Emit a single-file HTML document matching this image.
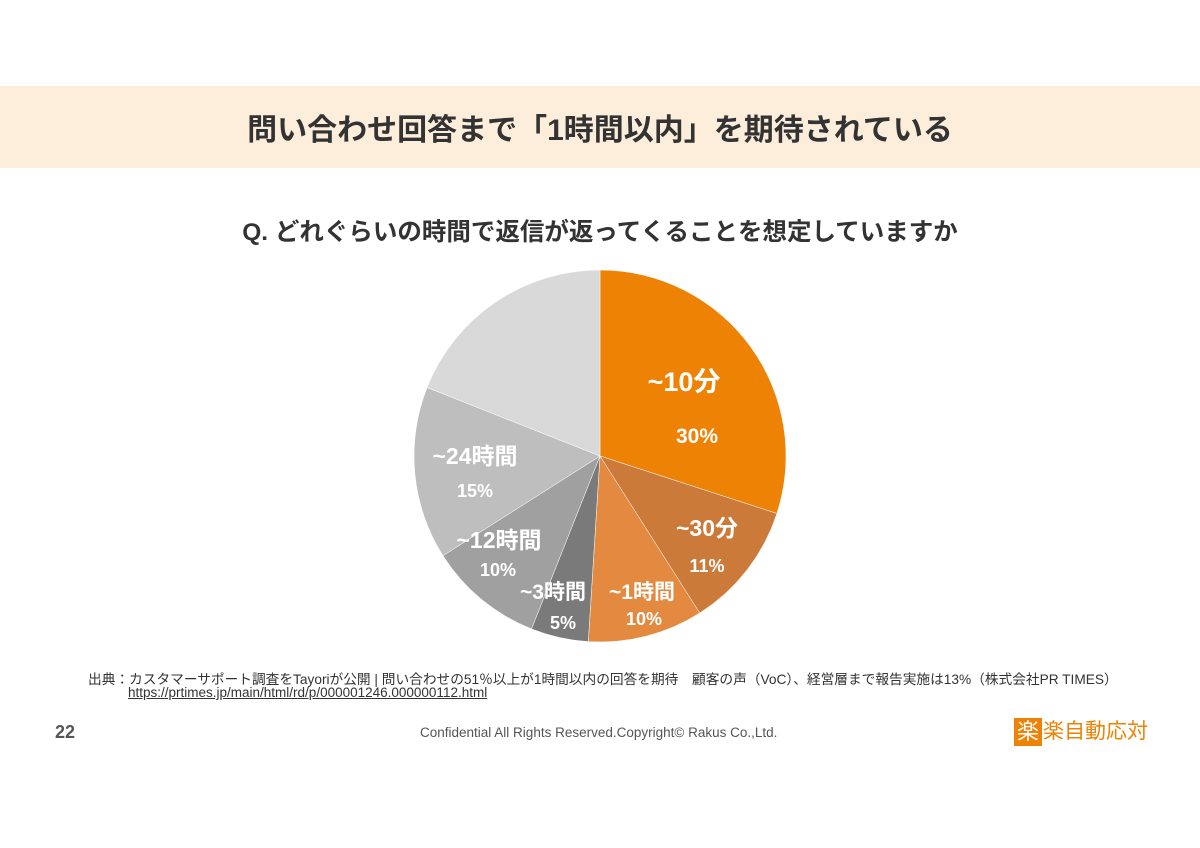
<!DOCTYPE html><html><head><meta charset="utf-8"><style>
body{margin:0;width:1200px;height:848px;background:#fff;position:relative;overflow:hidden;font-family:"Liberation Sans","Noto Sans CJK JP",sans-serif}
.a{position:absolute;white-space:nowrap}
</style></head><body>
<div class="a" style="left:0;top:86px;width:1200px;height:82px;background:#FDEEDC"></div>
<div class="a" style="left:0;top:105px;width:1200px;text-align:center;font-size:30px;font-weight:bold;color:#333">問い合わせ回答まで「1時間以内」を期待されている</div>
<div class="a" style="left:0;top:213px;width:1200px;text-align:center;font-size:24.5px;font-weight:bold;color:#333">Q. どれぐらいの時間で返信が返ってくることを想定していますか</div>
<svg class="a" style="left:0;top:0" width="1200" height="848">
<g stroke="#fff" stroke-width="0.5">
<path d="M600 456L600 270A186 186 0 0 1 776.9 513.5Z" fill="#EE8205"/>
<path d="M600 456L776.9 513.5A186 186 0 0 1 699.7 613Z" fill="#CB7A3A"/>
<path d="M600 456L699.7 613A186 186 0 0 1 588.3 641.6Z" fill="#E38A40"/>
<path d="M600 456L588.3 641.6A186 186 0 0 1 531.5 628.9Z" fill="#7A7A7A"/>
<path d="M600 456L531.5 628.9A186 186 0 0 1 443 555.7Z" fill="#A0A0A0"/>
<path d="M600 456L443 555.7A186 186 0 0 1 427.1 387.5Z" fill="#BEBEBE"/>
<path d="M600 456L427.1 387.5A186 186 0 0 1 600 270Z" fill="#D9D9D9"/>
</g>
<g fill="#fff" font-weight="bold" text-anchor="middle" font-family="Liberation Sans,Noto Sans CJK JP,sans-serif">
<text x="684" y="391" font-size="27">~10分</text><text x="697" y="443" font-size="21">30%</text>
<text x="707" y="536" font-size="23">~30分</text><text x="707" y="572" font-size="18">11%</text>
<text x="642" y="599" font-size="21">~1時間</text><text x="644" y="625" font-size="18">10%</text>
<text x="553" y="599" font-size="21">~3時間</text><text x="563" y="629" font-size="18">5%</text>
<text x="499" y="548" font-size="23">~12時間</text><text x="498" y="576" font-size="18">10%</text>
<text x="475" y="464" font-size="23">~24時間</text><text x="475" y="497" font-size="18">15%</text>
</g></svg>
<div class="a" style="left:88px;top:668px;font-size:13.7px;color:#333">出典：カスタマーサポート調査をTayoriが公開 | 問い合わせの51％以上が1時間以内の回答を期待　顧客の声（VoC）、経営層まで報告実施は13%（株式会社PR TIMES）</div>
<div class="a" style="left:128px;top:685px;font-size:13.5px;color:#333;text-decoration:underline">https://prtimes.jp/main/html/rd/p/000001246.000000112.html</div>
<div class="a" style="left:55px;top:722px;font-size:18px;font-weight:bold;color:#555">22</div>
<div class="a" style="left:420px;top:725px;font-size:13.5px;color:#555">Confidential All Rights Reserved.Copyright© Rakus Co.,Ltd.</div>
<div class="a" style="left:1014px;top:718px;width:28px;height:28px;background:#EE8205;color:#fff;font-size:22px;line-height:28px;text-align:center">楽</div>
<div class="a" style="left:1043px;top:718px;font-size:21px;line-height:28px;color:#EE8205">楽自動応対</div>
</body></html>
